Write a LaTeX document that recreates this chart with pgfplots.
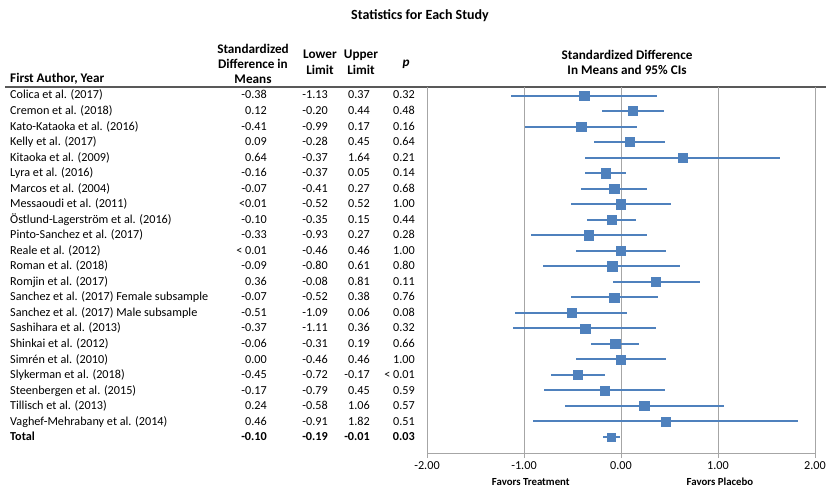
\documentclass[border=0pt]{standalone}
\usepackage{pgfplots}
\pgfplotsset{compat=1.18}
\usepackage{pgfplotstable}
\usepackage{fontspec}
\setmainfont{Carlito}
\definecolor{cmablue}{HTML}{4F81BD}
\definecolor{gridgray}{HTML}{A6A6A6}
\definecolor{rulegray}{HTML}{595959}

\pgfplotstableread{
row smd lo hi
1 -0.38 -1.13 0.37
2 0.12 -0.20 0.44
3 -0.41 -0.99 0.17
4 0.09 -0.28 0.45
5 0.64 -0.37 1.64
6 -0.16 -0.37 0.05
7 -0.07 -0.41 0.27
8 0.00 -0.52 0.52
9 -0.10 -0.35 0.15
10 -0.33 -0.93 0.27
11 0.00 -0.46 0.46
12 -0.09 -0.80 0.61
13 0.36 -0.08 0.81
14 -0.07 -0.52 0.38
15 -0.51 -1.09 0.06
16 -0.37 -1.11 0.36
17 -0.06 -0.31 0.19
18 0.00 -0.46 0.46
19 -0.45 -0.72 -0.17
20 -0.17 -0.79 0.45
21 0.24 -0.58 1.06
22 0.46 -0.91 1.82
}\studies

\pgfplotstableread{
row smd lo hi
23 -0.10 -0.19 -0.01
}\total

\begin{document}
\begin{tikzpicture}[x=1pt,y=1pt]
\useasboundingbox (0,0) rectangle (826,489);

% title
\node[anchor=base, font=\fontsize{14}{16}\selectfont\bfseries, inner sep=0pt] at (420,469) {Statistics for Each Study};

% header rule
\draw[rulegray, line width=2pt] (5,402.3) -- (826,402.3);

% column headers
\begin{scope}[every node/.style={font=\fontsize{13.2}{15}\selectfont\bfseries, inner sep=0pt}]
\node[anchor=base west] at (10,406.3) {First Author, Year};
\node[anchor=base] at (253,435.7) {Standardized};
\node[anchor=base] at (253,420.7) {Difference in};
\node[anchor=base] at (253,405.7) {Means};
\node[anchor=base] at (320,430.7) {Lower};
\node[anchor=base] at (320,414.7) {Limit};
\node[anchor=base] at (361,430.7) {Upper};
\node[anchor=base] at (361,414.7) {Limit};
\node[anchor=base] at (406,422) {\itshape p};
\node[anchor=base] at (627,429.7) {Standardized Difference};
\node[anchor=base] at (627,414) {In Means and 95\% CIs};
\end{scope}

% table rows
\begin{scope}[every node/.style={font=\fontsize{12.2}{14}\selectfont, inner sep=0pt}]
\foreach \n/\s/\l/\u/\p [count=\i] in {
Colica et al. (2017)/-0.38/-1.13/0.37/0.32,
Cremon et al. (2018)/0.12/-0.20/0.44/0.48,
Kato-Kataoka et al. (2016)/-0.41/-0.99/0.17/0.16,
Kelly et al. (2017)/0.09/-0.28/0.45/0.64,
Kitaoka et al. (2009)/0.64/-0.37/1.64/0.21,
Lyra et al. (2016)/-0.16/-0.37/0.05/0.14,
Marcos et al. (2004)/-0.07/-0.41/0.27/0.68,
Messaoudi et al. (2011)/<0.01/-0.52/0.52/1.00,
Östlund-Lagerström et al. (2016)/-0.10/-0.35/0.15/0.44,
Pinto-Sanchez et al. (2017)/-0.33/-0.93/0.27/0.28,
Reale et al. (2012)/< 0.01/-0.46/0.46/1.00,
Roman et al. (2018)/-0.09/-0.80/0.61/0.80,
Romjin et al. (2017)/0.36/-0.08/0.81/0.11,
Sanchez et al. (2017) Female subsample/-0.07/-0.52/0.38/0.76,
Sanchez et al. (2017) Male subsample/-0.51/-1.09/0.06/0.08,
Sashihara et al. (2013)/-0.37/-1.11/0.36/0.32,
Shinkai et al. (2012)/-0.06/-0.31/0.19/0.66,
Simrén et al. (2010)/0.00/-0.46/0.46/1.00,
Slykerman et al. (2018)/-0.45/-0.72/-0.17/< 0.01,
Steenbergen et al. (2015)/-0.17/-0.79/0.45/0.59,
Tillisch et al. (2013)/0.24/-0.58/1.06/0.57,
Vaghef-Mehrabany et al. (2014)/0.46/-0.91/1.82/0.51}
{
  \pgfmathsetmacro\yy{394-(\i-1)*15.53-4}
  \node[anchor=base west] at (10,\yy) {\n};
  \node[anchor=base east] at (267,\yy) {\s};
  \node[anchor=base east] at (328,\yy) {\l};
  \node[anchor=base east] at (370,\yy) {\u};
  \node[anchor=base east] at (415,\yy) {\p};
}
\pgfmathsetmacro\yy{394-22*15.53-4}
\node[anchor=base west, font=\fontsize{12.2}{14}\selectfont\bfseries] at (10,\yy) {Total};
\node[anchor=base east, font=\fontsize{12.2}{14}\selectfont\bfseries] at (267,\yy) {-0.10};
\node[anchor=base east, font=\fontsize{12.2}{14}\selectfont\bfseries] at (328,\yy) {-0.19};
\node[anchor=base east, font=\fontsize{12.2}{14}\selectfont\bfseries] at (370,\yy) {-0.01};
\node[anchor=base east, font=\fontsize{12.2}{14}\selectfont\bfseries] at (415,\yy) {0.03};
\end{scope}

\begin{axis}[
  at={(427pt,36pt)}, anchor=south west,
  scale only axis, width=388pt, height=366pt,
  xmin=-2, xmax=2, ymin=0.45, ymax=24.03, y dir=reverse,
  axis x line*=bottom, axis y line=none,
  x axis line style={gridgray, line width=0.9pt, -},
  xtick={-2,-1,0,1,2},
  xticklabels={-2.00,-1.00,0.00,1.00,2.00},
  ytick=\empty,
  tick align=outside, major tick length=5pt,
  tick style={gridgray, line width=0.9pt},
  xmajorgrids, grid style={gridgray, line width=0.9pt},
  x tick label style={font=\fontsize{12.2}{14}\selectfont, text=black, inner sep=3.5pt},
  clip=false,
]
\addplot[only marks, mark=square*, mark size=4.6pt, color=cmablue,
  error bars/.cd, x dir=both, x explicit, error mark=none,
  error bar style={line width=2pt, cmablue}]
  table[x=smd, y=row,
        x error plus expr=\thisrow{hi}-\thisrow{smd},
        x error minus expr=\thisrow{smd}-\thisrow{lo}] {\studies};
\addplot[only marks, mark=square*, mark size=3.8pt, color=cmablue,
  error bars/.cd, x dir=both, x explicit, error mark=none,
  error bar style={line width=2pt, cmablue}]
  table[x=smd, y=row,
        x error plus expr=\thisrow{hi}-\thisrow{smd},
        x error minus expr=\thisrow{smd}-\thisrow{lo}] {\total};
\node[anchor=base, yshift=-32pt, font=\fontsize{10.8}{12}\selectfont\bfseries] at (axis cs:-0.93,24.03) {Favors Treatment};
\node[anchor=base, yshift=-32pt, font=\fontsize{10.8}{12}\selectfont\bfseries] at (axis cs:1.02,24.03) {Favors Placebo};
\end{axis}
\end{tikzpicture}
\end{document}
